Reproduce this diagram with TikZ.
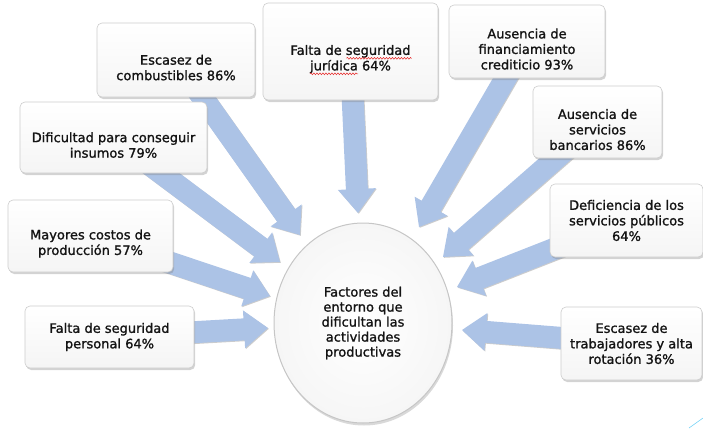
\documentclass[tikz,border=0pt]{standalone}
\usepackage{fontspec}
\setmainfont{DejaVu Sans}[BoldFont={DejaVu Sans},BoldFeatures={FakeBold=1.3}]
\usetikzlibrary{calc,shadows,shapes.geometric,decorations.pathmorphing}
\definecolor{arrowblue}{RGB}{172,195,230}
\definecolor{boxedge}{RGB}{205,205,205}
\definecolor{txt}{RGB}{20,20,20}
\definecolor{wavered}{RGB}{230,40,40}
\pgfdeclarelayer{bg}
\pgfsetlayers{bg,main}
\newcommand\dn{\rule{0pt}{25pt}}
\newcommand\blockarr[3]{%
  \coordinate (#3h) at ($(#2)!24pt!(#1.center)$);
  \fill[arrowshape] ($(#1.center)!11pt!90:(#2)$) -- ($(#3h)!11pt!90:(#2)$)
    -- ($(#3h)!19pt!90:(#2)$) -- (#2) -- ($(#3h)!19pt!-90:(#2)$)
    -- ($(#3h)!11pt!-90:(#2)$) -- ($(#1.center)!11pt!-90:(#2)$) -- cycle;}
\tikzset{
  box/.style={rectangle, rounded corners=5pt, draw=boxedge, line width=0.6pt,
    top color=white, bottom color=gray!8, align=center, text=txt,
    font=\fontsize{13}{15.5}\selectfont\bfseries, inner sep=2pt,
    drop shadow={shadow xshift=1.2pt, shadow yshift=-2pt, opacity=0.35}},
  hub/.style={ellipse, draw=gray!45, line width=1pt, inner color=white, outer color=gray!7,
    align=center, text=txt, font=\fontsize{13}{15}\selectfont\bfseries,
    drop shadow={shadow xshift=1pt, shadow yshift=-2.5pt, opacity=0.3}},
  arrowshape/.style={fill=arrowblue,
    drop shadow={shadow xshift=0.8pt, shadow yshift=-0.8pt, opacity=0.4}},
  spellwave/.style={draw=wavered, line width=0.5pt, decorate,
    decoration={snake, amplitude=0.9pt, segment length=3pt}}
}
\begin{document}
\begin{tikzpicture}[x=1pt,y=-1pt]
\useasboundingbox (0,0) rectangle (703,428);
% boxes
\node[box, minimum width=158pt, minimum height=74pt] (n1) at (176,60) {\dn Escasez de\\combustibles 86\%};
\node[box, minimum width=175pt, minimum height=97pt] (n2) at (350.5,51.5) {\dn Falta de seguridad\\jurídica 64\%};
\node[box, minimum width=156pt, minimum height=73pt] (n3) at (527,41.5) {\dn Ausencia de\\financiamiento\\crediticio 93\%};
\node[box, minimum width=129pt, minimum height=72pt] (n4) at (597.5,122) {\dn Ausencia de\\servicios\\bancarios 86\%};
\node[box, minimum width=153pt, minimum height=73pt] (n5) at (626.5,220.5) {Deficiencia de los\\servicios públicos\\64\%};
\node[box, minimum width=141pt, minimum height=73pt] (n6) at (631.5,343.5) {Escasez de\\trabajadores y alta\\rotación 36\%};
\node[box, minimum width=187pt, minimum height=71pt] (n7) at (113.5,137.5) {\dn Dificultad para conseguir\\insumos 79\%};
\node[box, minimum width=165pt, minimum height=72pt] (n8) at (90.5,236) {\dn Mayores costos de\\producción 57\%};
\node[box, minimum width=169pt, minimum height=62pt] (n9) at (109.5,337) {Falta de seguridad\\personal 64\%};
% hub
\node[hub, minimum width=178pt, minimum height=200pt] (c) at (363,323) {Factores del\\entorno que\\dificultan las\\actividades\\productivas};
% spell-check marks
\draw[spellwave] ($(n2.center)+(-4,6.8)$) -- ($(n2.center)+(61,6.8)$);
\draw[spellwave] ($(n2.center)+(-40.5,22.3)$) -- ($(n2.center)+(7.5,22.3)$);
% arrow tips
\coordinate (t1) at (300,235);
\coordinate (t2) at (280,262);
\coordinate (t3) at (270,296);
\coordinate (t4) at (268,328);
\coordinate (t5) at (358,213);
\coordinate (t6) at (419,227);
\coordinate (t7) at (443,257);
\coordinate (t8) at (457,287);
\coordinate (t9) at (462,330);
\begin{pgfonlayer}{bg}
\blockarr{n1}{t1}{a1}
\blockarr{n7}{t2}{a2}
\blockarr{n8}{t3}{a3}
\blockarr{n9}{t4}{a4}
\blockarr{n2}{t5}{a5}
\blockarr{n3}{t6}{a6}
\blockarr{n4}{t7}{a7}
\blockarr{n5}{t8}{a8}
\blockarr{n6}{t9}{a9}
\end{pgfonlayer}
% corner decoration
\coordinate (d1) at (689,428);
\coordinate (d2) at (703,418);
\draw[cyan!55, line width=0.6pt] (d1) -- (d2);
\end{tikzpicture}
\end{document}
